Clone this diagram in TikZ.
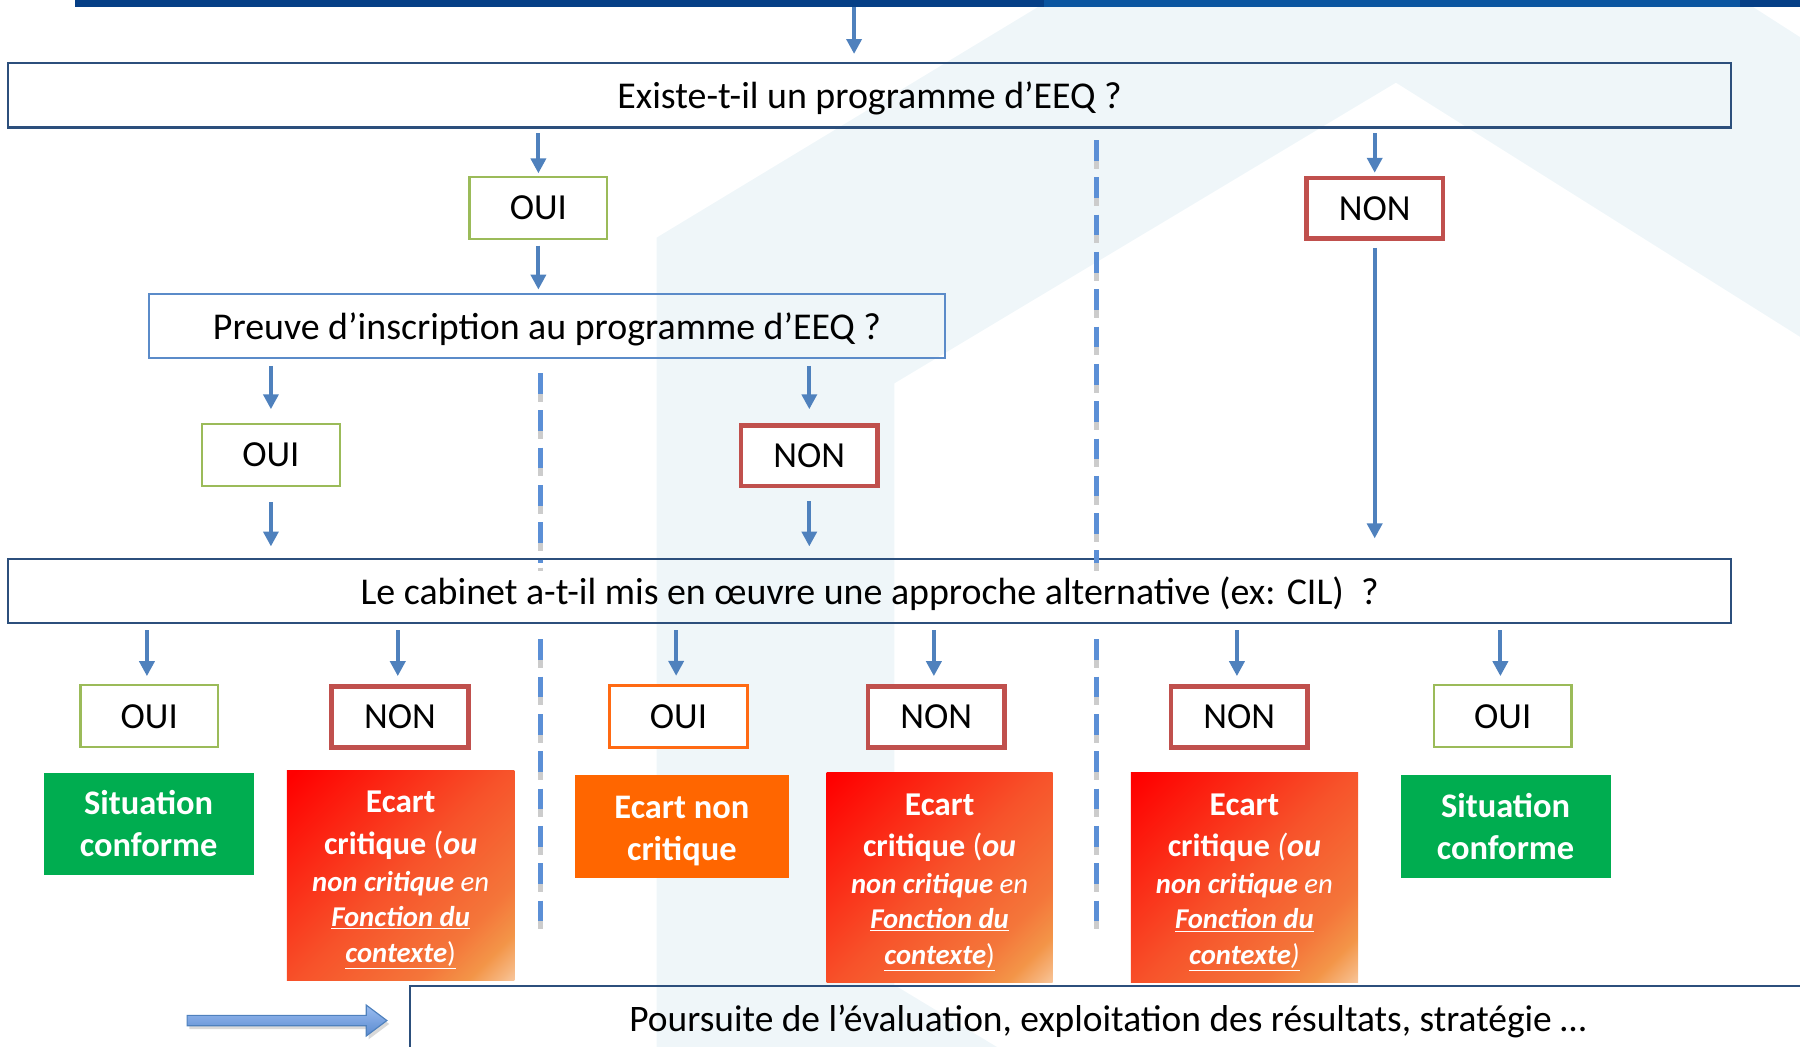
\documentclass[tikz,border=0pt]{standalone}
\usepackage{fontspec}
\setmainfont{Carlito}
\usetikzlibrary{arrows.meta,shadows,calc}

\definecolor{navy}{HTML}{063F86}
\definecolor{navyL}{HTML}{0A55A0}
\definecolor{wm}{HTML}{EFF6F9}
\definecolor{arrblue}{HTML}{4F81BD}
\definecolor{sepblue}{HTML}{5B8FD6}
\definecolor{qborder}{HTML}{2C4F7C}
\definecolor{qtwoborder}{HTML}{5B8BC9}
\definecolor{ouigreen}{HTML}{9BBB59}
\definecolor{nonred}{HTML}{C0504D}
\definecolor{ouiorange}{HTML}{FF6A13}
\definecolor{sitgreen}{HTML}{00AD50}
\definecolor{encorange}{HTML}{FF6600}
\definecolor{arrtop}{HTML}{9BBDF0}
\definecolor{arrbot}{HTML}{5A8AD0}

\pgfdeclarehorizontalshading{ecartshade}{100bp}{%
  color(0bp)=(red); color(16bp)=(red);
  color(50bp)=(rgb,255:red,247;green,82;blue,42);
  color(70bp)=(rgb,255:red,244;green,118;blue,58);
  color(78bp)=(rgb,255:red,243;green,149;blue,72);
  color(83bp)=(rgb,255:red,246;green,180;blue,124);
  color(86bp)=(rgb,255:red,248;green,201;blue,162);
  color(100bp)=(rgb,255:red,248;green,201;blue,162)}

\tikzset{
  qbox/.style={draw=qborder, line width=2pt, minimum height=56pt, inner sep=0pt,
    font=\fontsize{33}{39}\selectfont, text height=30pt, text depth=7pt},
  ansbox/.style={fill=white, inner sep=0pt, font=\fontsize{32}{38}\selectfont},
  ouibox/.style={ansbox, draw=ouigreen, line width=2pt, minimum width=120pt, minimum height=54pt},
  ouiobox/.style={ansbox, draw=ouiorange, line width=2.5pt, minimum width=120pt, minimum height=54pt},
  nonbox/.style={ansbox, draw=nonred, line width=4pt, minimum width=119pt, minimum height=53pt},
  arr/.style={draw=arrblue, line width=3.5pt, -{Triangle[width=13pt,length=13pt]}},
  sepline/.style={draw=sepblue, line width=4pt, dash pattern=on 18pt off 14.5pt},
  sepshadow/.style={draw=gray!40, line width=4pt, dash pattern=on 18pt off 14.5pt},
  resbox/.style={inner sep=0pt, text=white, align=center,
    font=\fontsize{30}{36}\selectfont\bfseries},
  ecbox/.style={inner sep=0pt, shading=ecartshade,
    shading angle=-45, minimum width=198pt, minimum height=183pt},
  ectext/.style={inner sep=0pt, text=white, align=center,
    font=\fontsize{25}{31}\selectfont},
}

\begin{document}
\begin{tikzpicture}[x=1pt,y=-1pt]
\useasboundingbox (0,0) rectangle (1568,912);

% watermark
\fill[wm] (572,913) -- (572,207) -- (916,-1) -- (1516,-1) -- (1569,33) -- (1569,294)
  -- (1216,72) -- (779,334) -- (779,858) -- (870,913) -- cycle;

% top bar
\node[fill=navy, minimum width=1504pt, minimum height=7pt, inner sep=0pt, anchor=north west] (bar) at (65,-1) {};
\fill[navyL] (909,-1) rectangle (1516,6);
\coordinate (topsrc) at (744,6);

% question boxes
\node[qbox, minimum width=1501pt] (q1) at (757.5,83) {Existe-t-il un programme d’EEQ ?};
\node[qbox, draw=qtwoborder, line width=1.5pt, minimum width=693pt] (q2) at (476.5,284) {Preuve d’inscription au programme d’EEQ ?};
\node[qbox, minimum width=1501pt] (q3) at (757.5,515) {Le cabinet a-t-il mis en œuvre une approche alternative (ex: CIL)\ \ ?};

% answer boxes
\node[ouibox] (oui1) at (469,181) {OUI};
\node[nonbox] (non1) at (1197.5,181.5) {NON};
\node[ouibox] (oui2) at (236,396.5) {OUI};
\node[nonbox] (non2) at (705,397) {NON};
\node[ouibox] (oui3) at (130,624) {OUI};
\node[nonbox] (non3) at (348.5,624.5) {NON};
\node[ouiobox] (oui4) at (591,624) {OUI};
\node[nonbox] (non4) at (815.5,624.5) {NON};
\node[nonbox] (non5) at (1079.5,624.5) {NON};
\node[ouibox] (oui5) at (1309,624) {OUI};

% separators
\foreach \xx/\ya/\yb in {471/325/490, 471/557/808, 955/122/490, 955/557/808}{
  \draw[sepshadow] (\xx,\ya+7) -- (\xx,\yb+7);
  \draw[sepline] (\xx,\ya) -- (\xx,\yb);
}

% arrows
\draw[arr, shorten >=7pt] (topsrc) -- (topsrc |- q1.north);
\draw[arr, shorten <=4pt, shorten >=2pt] (q1.south -| oui1.north) -- (oui1.north);
\draw[arr, shorten <=4pt, shorten >=2.5pt] (q1.south -| non1.north) -- (non1.north);
\draw[arr, shorten <=5pt, shorten >=3pt] (oui1.south) -- (oui1.south |- q2.north);
\draw[arr, shorten <=6pt, shorten >=17pt] (non1.south) -- (non1.south |- q3.north);
\draw[arr, shorten <=6pt, shorten >=12pt] (q2.south -| oui2.north) -- (oui2.north);
\draw[arr, shorten <=6pt, shorten >=12pt] (q2.south -| non2.north) -- (non2.north);
\draw[arr, shorten <=13pt, shorten >=10pt] (oui2.south) -- (oui2.south |- q3.north);
\draw[arr, shorten <=11pt, shorten >=10pt] (non2.south) -- (non2.south |- q3.north);
\foreach \b in {oui3,non3,oui4,non4,non5,oui5}{
  \draw[arr, shorten <=5pt, shorten >=7pt] ([xshift=-2pt]q3.south -| \b.north) -- ([xshift=-2pt]\b.north);
}

% result boxes
\node[resbox, fill=sitgreen, minimum width=183pt, minimum height=89pt] (sc1) at (129.5,717.5) {Situation\\conforme};
\node[resbox, fill=encorange, minimum width=186pt, minimum height=90pt] (enc) at (594,720) {};
\node[resbox] (enct) at ($(enc.center)+(0,4)$) {Ecart non\\critique};
\node[resbox, fill=sitgreen, minimum width=183pt, minimum height=90pt] (sc2) at (1311.5,720) {Situation\\conforme};

\node[ecbox] (ec1) at (349,762.5) {};
\node[ecbox, minimum width=197pt] (ec2) at (818.5,764.5) {};
\node[ecbox] (ec3) at (1084,764.5) {};

\node[ectext] (ec1t) at ($(ec1.center)+(0,4)$) {%
  {\fontsize{29}{35}\selectfont\bfseries Ecart}\\[5pt]
  {\fontsize{28}{33}\selectfont\bfseries critique}{\fontsize{28}{33}\selectfont{} (\textbf{\textit{ou}}}\\[1pt]
  \textbf{\textit{non critique}} \textit{en}\\
  \underline{\textbf{\textit{Fonction du}}}\\
  \underline{\textbf{\textit{contexte}})}};
\node[ectext] (ec2t) at ($(ec2.center)+(0,4)$) {%
  {\fontsize{29}{35}\selectfont\bfseries Ecart}\\[5pt]
  {\fontsize{28}{33}\selectfont\bfseries critique}{\fontsize{28}{33}\selectfont{} (\textbf{\textit{ou}}}\\[1pt]
  \textbf{\textit{non critique}} \textit{en}\\
  \underline{\textbf{\textit{Fonction du}}}\\
  \underline{\textbf{\textit{contexte}})}};
\node[ectext] (ec3t) at ($(ec3.center)+(0,4)$) {%
  {\fontsize{29}{35}\selectfont\bfseries Ecart}\\[5pt]
  {\fontsize{28}{33}\selectfont\bfseries critique}{\fontsize{28}{33}\selectfont{} \textit{(\textbf{ou}}}\\[1pt]
  \textbf{\textit{non critique}} \textit{en}\\
  \underline{\textbf{\textit{Fonction du}}}\\
  \underline{\textbf{\textit{contexte}}\textit{)}}};

% bottom
\node[draw=qborder, line width=2pt, minimum width=1250pt, minimum height=100pt, inner sep=0pt, anchor=north west] (pours) at (356,858) {};
\node[font=\fontsize{32.6}{39}\selectfont, inner sep=0pt] (pourstxt) at (965,890) {Poursuite de l’évaluation, exploitation des résultats, stratégie …};
\path[draw=arrblue, line width=1pt, top color=arrtop, bottom color=arrbot,
  drop shadow={shadow xshift=2pt, shadow yshift=-3pt, opacity=0.3}]
  (163,884.5) -- (319,884.5) -- (319,875.5) -- (337,889) -- (319,902.5) -- (319,893.5) -- (163,893.5) -- cycle;
\end{tikzpicture}
\end{document}
